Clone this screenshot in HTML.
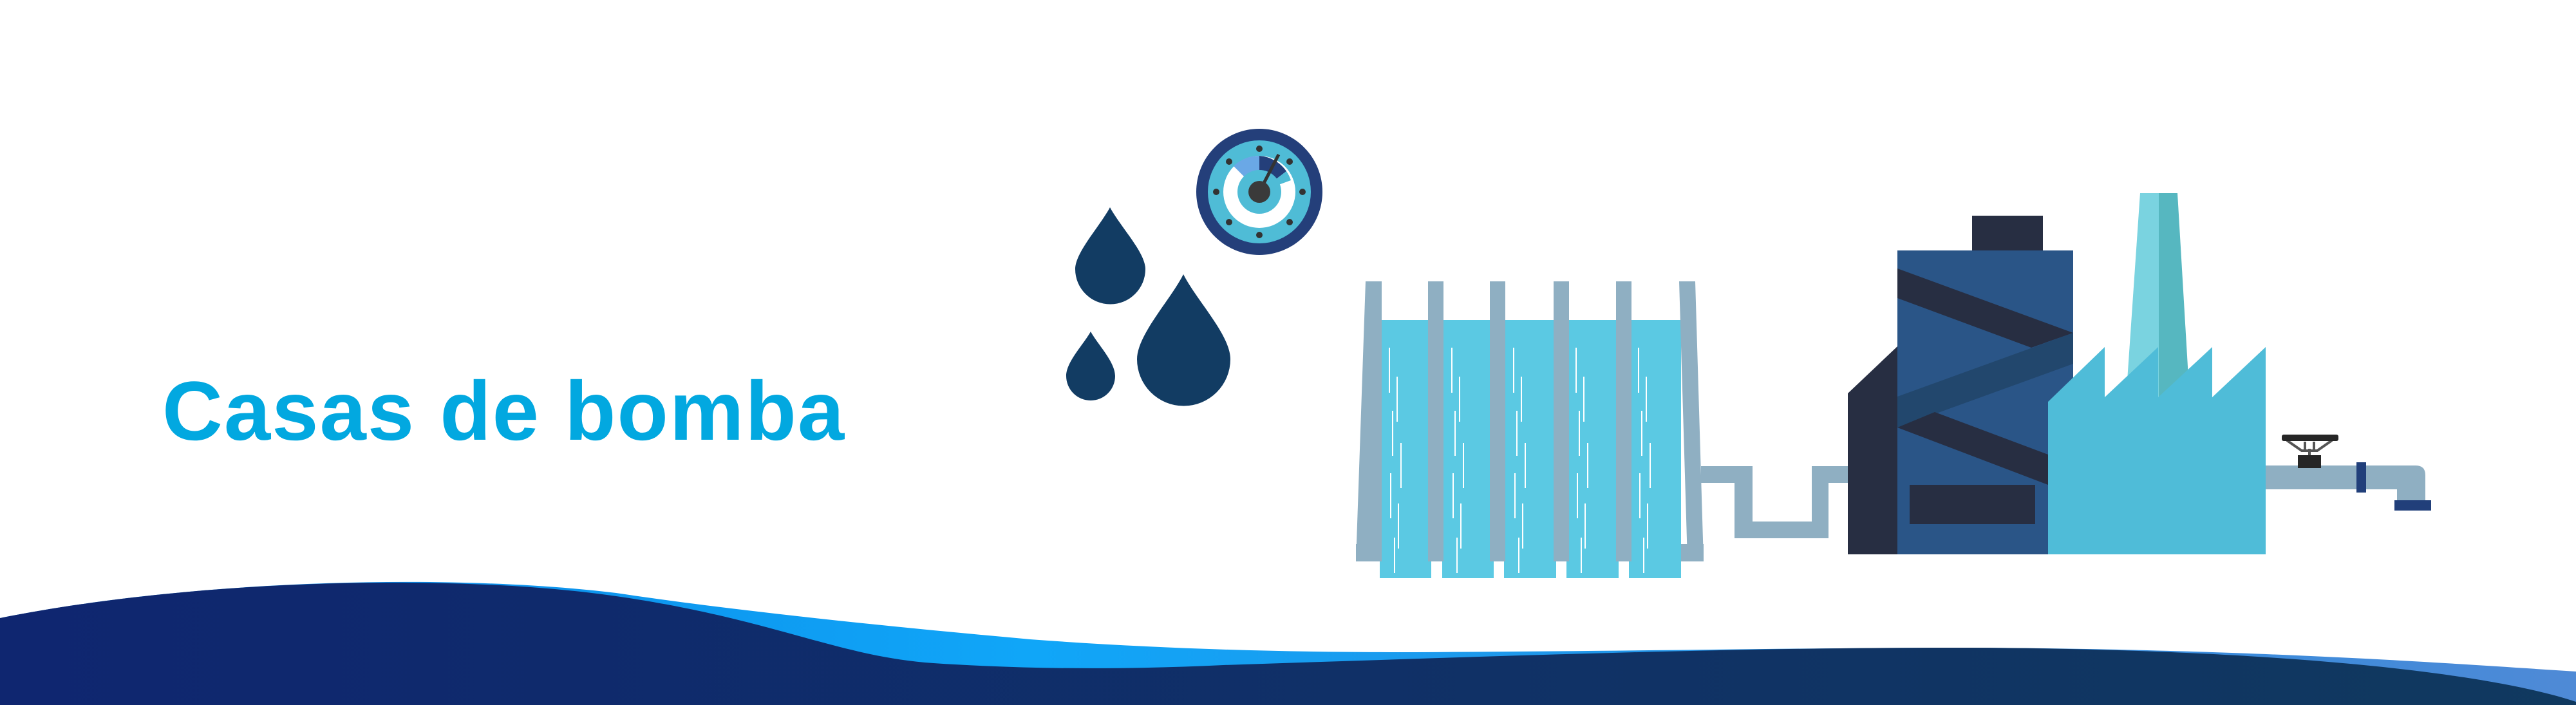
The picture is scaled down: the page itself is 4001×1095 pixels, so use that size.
<!DOCTYPE html>
<html><head><meta charset="utf-8"><style>
html,body{margin:0;padding:0;background:#fff;}
#w{position:relative;width:4001px;height:1095px;overflow:hidden;background:#fff;}
#t{position:absolute;left:252px;top:573px;font-family:"Liberation Sans",sans-serif;font-weight:bold;font-size:130px;line-height:1;color:#02a8e0;letter-spacing:2px;white-space:nowrap;}
svg{position:absolute;left:0;top:0;}
</style></head><body><div id="w">
<svg width="4001" height="1095" viewBox="0 0 4001 1095">
<defs>
<linearGradient id="dk" x1="0" x2="1" y1="0" y2="0"><stop offset="0" stop-color="#0f2670"/><stop offset="1" stop-color="#10395f"/></linearGradient>
<linearGradient id="lt" x1="0" x2="1" y1="0" y2="0"><stop offset="0" stop-color="#0a7fe0"/><stop offset="0.4" stop-color="#10a6f8"/><stop offset="0.75" stop-color="#2a8ce0"/><stop offset="1" stop-color="#4f8ad6"/></linearGradient>
</defs>
<!-- drops -->
<g fill="#123c63">
<path d="M1724,322 C1740,352 1779,392 1779,418 A54.5,54.5 0 0 1 1670,418 C1670,392 1708,352 1724,322Z"/>
<path d="M1838,426 C1858,466 1911,520 1911,558 A72.5,72.5 0 0 1 1766,558 C1766,520 1818,466 1838,426Z"/>
<path d="M1694,515 C1705,535 1732,562 1732,584 A38,38 0 0 1 1656,584 C1656,562 1683,535 1694,515Z"/>
</g>
<!-- gauge -->
<circle cx="1956" cy="298" r="98" fill="#243f7a"/>
<circle cx="1956" cy="298" r="80" fill="#4fbcd6"/>
<circle cx="1956" cy="298" r="56" fill="#fff"/>
<path d="M1956,298 L1956,242 A56,56 0 0 0 1916,258 Z" fill="#6aa8e6"/>
<path d="M1956,298 L1956,242 A56,56 0 0 1 1998,266 Z" fill="#243f7a"/>
<path d="M1956,298 L1998,266 A56,56 0 0 1 2005,280 Z" fill="#4fbcd6"/>
<circle cx="1956" cy="298" r="34" fill="#4fbcd6"/>
<line x1="1956" y1="298" x2="1986" y2="240" stroke="#333" stroke-width="5"/>
<circle cx="1956" cy="298" r="17" fill="#3a3a3a"/>
<g fill="#333">
<circle cx="1956" cy="231" r="5"/><circle cx="1956" cy="365" r="5"/><circle cx="1889" cy="298" r="5"/><circle cx="2023" cy="298" r="5"/>
<circle cx="1909" cy="251" r="5"/><circle cx="2003" cy="251" r="5"/><circle cx="1909" cy="345" r="5"/><circle cx="2003" cy="345" r="5"/>
</g>
<!-- tank -->
<rect x="2106" y="845" width="540" height="27" fill="#8fafc2"/>
<g fill="#5bc9e3">
<rect x="2143" y="497" width="80" height="401"/><rect x="2240" y="497" width="80" height="401"/><rect x="2336" y="497" width="81" height="401"/><rect x="2433" y="497" width="81" height="401"/><rect x="2530" y="497" width="81" height="401"/>
</g>
<g stroke="#fff" stroke-width="2">
<path d="M2158,540v70M2170,585v70M2163,638v70M2176,688v70M2160,735v70M2172,782v70M2166,835v55"/>
<path d="M2255,540v70M2267,585v70M2260,638v70M2273,688v70M2257,735v70M2269,782v70M2263,835v55"/>
<path d="M2351,540v70M2363,585v70M2356,638v70M2369,688v70M2353,735v70M2365,782v70M2359,835v55"/>
<path d="M2448,540v70M2460,585v70M2453,638v70M2466,688v70M2450,735v70M2462,782v70M2456,835v55"/>
<path d="M2545,540v70M2557,585v70M2550,638v70M2563,688v70M2547,735v70M2559,782v70M2553,835v55"/>
</g>
<g fill="#8fafc2">
<polygon points="2121,437 2146,437 2146,872 2106,872"/>
<rect x="2218" y="437" width="24" height="435"/><rect x="2314" y="437" width="24" height="435"/><rect x="2413" y="437" width="24" height="435"/><rect x="2510" y="437" width="24" height="435"/>
<polygon points="2608,437 2633,437 2646,872 2621,872"/>
<!-- connecting pipe -->
<rect x="2642" y="724" width="80" height="26"/><rect x="2694" y="724" width="28" height="112"/><rect x="2694" y="810" width="146" height="26"/><rect x="2814" y="724" width="26" height="112"/><rect x="2814" y="724" width="60" height="26"/>
</g>
<!-- building -->
<rect x="3063" y="335" width="110" height="56" fill="#272e42"/>
<rect x="2947" y="389" width="273" height="472" fill="#2a5587"/>
<polygon points="2870,611 2947,538 2947,861 2870,861" fill="#272e42"/>
<polygon points="2947,417 3220,517 3155,540 2947,463" fill="#272e42"/>
<polygon points="3220,517 3220,565 2947,664 2947,616" fill="#22476d"/>
<polygon points="3005,640 3181,706 3181,753 2947,664" fill="#272e42"/>
<rect x="2966" y="753" width="195" height="61" fill="#272e42"/>
<!-- chimney -->
<polygon points="3324,300 3353,300 3353,620 3302,620" fill="#7ad3e0"/>
<polygon points="3353,300 3382,300 3401,620 3353,620" fill="#56b7c0"/>
<!-- factory -->
<polygon points="3181,624 3269,539 3269,617 3352,539 3352,617 3436,539 3436,617 3519,539 3519,861 3181,861" fill="#4fbcd8"/>
<!-- valve pipe -->
<path d="M3519,723 H3752 Q3767,723 3767,738 V777 H3723 V760 H3519 Z" fill="#8fafc2"/>
<rect x="3719" y="777" width="57" height="16" fill="#213f7a"/>
<rect x="3660" y="718" width="15" height="47" fill="#213f7a"/>
<rect x="3569" y="707" width="36" height="20" fill="#262626"/>
<path d="M3587,707 V697 M3552,684 L3575,700 H3599 L3622,684 M3580,686 V698 M3594,686 V698" stroke="#555" stroke-width="4" fill="none"/>
<rect x="3544" y="675" width="88" height="10" rx="3" fill="#262626"/>
<!-- waves -->
<path d="M0,960 C300,900 700,890 957,921 C1150,950 1400,975 1600,993 C1800,1008 2000,1013 2169,1013 C2500,1012 2800,1006 3062,1006 C3500,1008 3800,1030 4001,1043 L4001,1095 L0,1095Z" fill="url(#lt)"/>
<path d="M0,960 C300,900 700,890 950,925 C1200,960 1300,1020 1450,1030 C1600,1040 1750,1040 1900,1033 C2300,1020 2700,1005 3062,1006 C3500,1008 3850,1040 4001,1090 L4001,1095 L0,1095Z" fill="url(#dk)"/>
</svg>
<div id="t">Casas de bomba</div>
</div></body></html>
